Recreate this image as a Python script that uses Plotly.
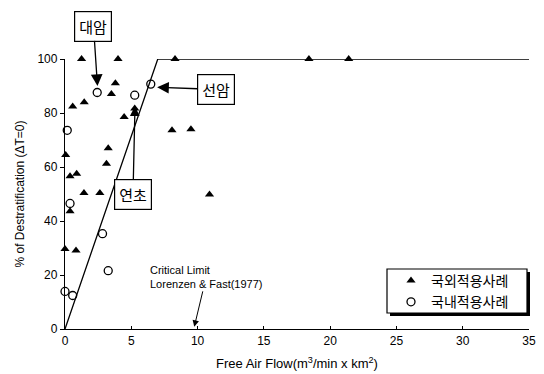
import plotly.graph_objects as go

# Data
foreign_x = [0.05, 1.25, 4.0, 8.3, 18.4, 21.4, 3.8, 3.5, 1.45, 0.58, 4.46, 5.26,
             8.07, 9.5, 3.26, 3.13, 0.38, 0.88, 1.43, 2.63, 10.9, 0.38, 0.0, 0.83]
foreign_y = [64.4, 100, 100, 100, 100, 100, 91, 87, 84, 82.4, 78.5, 81.7,
             73.6, 74, 66.9, 61.2, 56.6, 57.5, 50.4, 50.4, 49.8, 43.6, 29.6, 29.1]

domestic_x = [0.17, 2.43, 5.26, 6.47, 0.38, 2.83, 3.26, 0.0, 0.58]
domestic_y = [73.6, 87.6, 86.6, 90.7, 46.5, 35.3, 21.6, 13.9, 12.4]

curve_x = [0, 7.0, 35]
curve_y = [0, 100, 100]

x_ticks = [0, 5, 10, 15, 20, 25, 30, 35]
y_ticks = [0, 20, 40, 60, 80, 100]

series_names = ["국외적용사례", "국내적용사례"]

FONT = "Liberation Sans, Arial, sans-serif"
KFONT = "Noto Sans CJK KR"

fig = go.Figure()
fig.add_trace(go.Scatter(x=curve_x, y=curve_y, mode="lines",
                         line=dict(color="black", width=1.3),
                         showlegend=False, hoverinfo="skip", cliponaxis=False))
fig.add_trace(go.Scatter(x=foreign_x, y=foreign_y, mode="markers", name=series_names[0],
                         marker=dict(symbol="triangle-up", size=8, color="black"),
                         cliponaxis=False))
fig.add_trace(go.Scatter(x=domestic_x, y=domestic_y, mode="markers", name=series_names[1],
                         marker=dict(symbol="circle-open", size=8, color="black",
                                     line=dict(width=1.3, color="black")),
                         cliponaxis=False))

labelbox = dict(showarrow=True, arrowhead=2, arrowwidth=1.3, arrowcolor="black",
                font=dict(family=KFONT, size=15, color="black"),
                bordercolor="black", borderwidth=1.2, borderpad=4, bgcolor="white",
                xref="x", yref="y")

annotations = [
    dict(labelbox, x=2.45, y=90.0, ax=-4, ay=-60, text="대암", arrowsize=1.8),
    dict(labelbox, x=6.95, y=89.5, ax=59, ay=2, text="선암", arrowsize=1.8),
    dict(labelbox, x=5.28, y=82.5, ax=-2, ay=88, text="연초", arrowsize=1.5),
    dict(x=9.75, y=0.8, xref="x", yref="y", ax=12, ay=-50, showarrow=True,
         arrowhead=2, arrowsize=1.3, arrowwidth=1, arrowcolor="black",
         align="left", text="Critical Limit<br>Lorenzen & Fast(1977)",
         font=dict(family=FONT, size=11, color="black")),
]

def px_x(p):
    return (p - 65) / 464

def px_y(p):
    return (329 - p) / 270

fig.update_layout(
    width=544, height=374,
    margin=dict(l=65, r=15, t=59, b=45),
    paper_bgcolor="white", plot_bgcolor="white",
    font=dict(family=FONT, size=12, color="black"),
    annotations=annotations,
    showlegend=True,
    legend=dict(x=px_x(391), y=px_y(265), xanchor="left", yanchor="top",
                bgcolor="rgba(0,0,0,0)", borderwidth=0,
                font=dict(family=KFONT, size=14, color="black"),
                itemwidth=30, tracegroupgap=0),
    xaxis=dict(range=[0, 35], tickvals=x_ticks, ticktext=[str(v) for v in x_ticks],
               showgrid=False, zeroline=False, showline=True, linecolor="black",
               linewidth=1.3, ticks="inside", ticklen=3, tickcolor="black",
               automargin=False,
               title=dict(text="Free Air Flow(m<sup>3</sup>/min x km<sup>2</sup>)",
                          font=dict(family=FONT, size=13), standoff=12)),
    yaxis=dict(range=[0, 100], tickvals=y_ticks, ticktext=[str(v) for v in y_ticks],
               showgrid=False, zeroline=False, showline=True, linecolor="black",
               linewidth=1.3, ticks="outside", ticklen=4, tickcolor="black",
               automargin=False,
               title=dict(text="% of Destratification (ΔT=0)",
                          font=dict(family=FONT, size=12), standoff=10)),
)

# Legend frame with drop-shadow
fig.add_shape(type="rect", xref="paper", yref="paper",
              x0=px_x(390), x1=px_x(530), y0=px_y(316), y1=px_y(272),
              fillcolor="black", line=dict(width=0), layer="above")
fig.add_shape(type="rect", xref="paper", yref="paper",
              x0=px_x(387), x1=px_x(527), y0=px_y(313), y1=px_y(269),
              fillcolor="white", line=dict(width=1.2, color="black"), layer="above")

fig.write_html("out.html", config={"displayModeBar": False},
               post_script="document.body.style.margin='0';")
